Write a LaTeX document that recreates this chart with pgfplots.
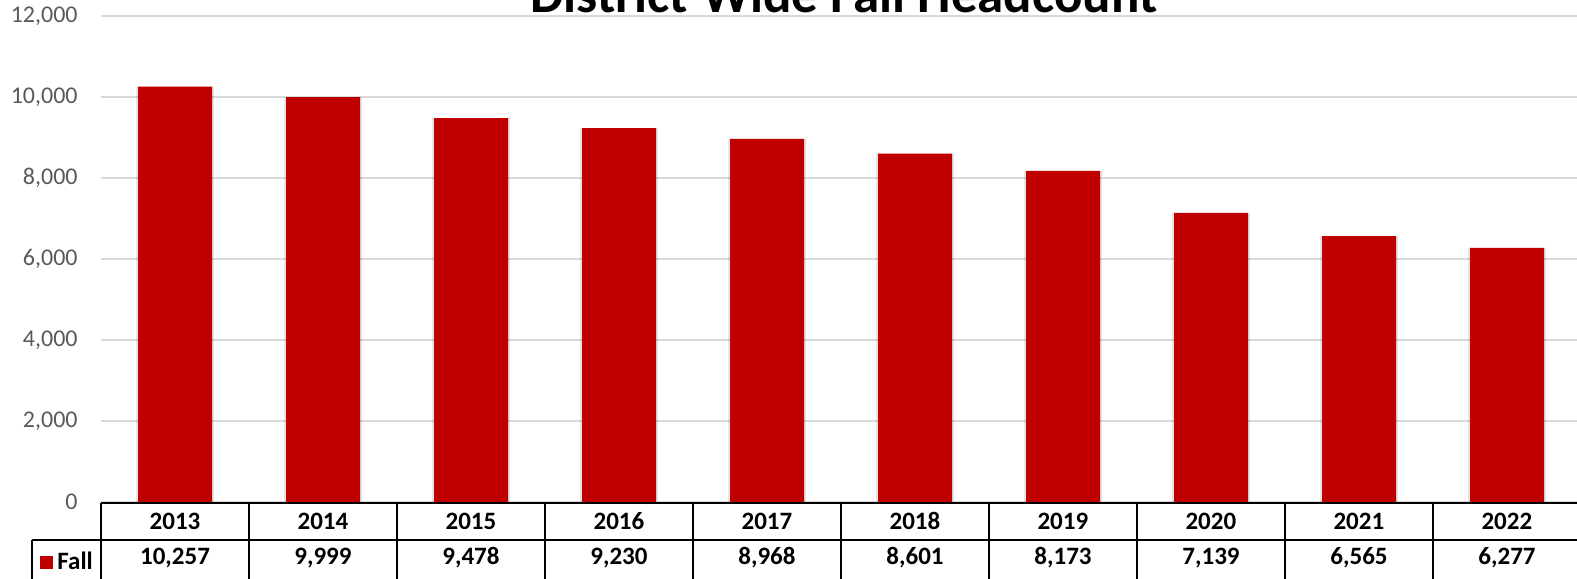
\documentclass[border=0pt]{standalone}
\usepackage{pgfplots}
\pgfplotsset{compat=1.18}
\usepackage{pgfplotstable}
\usepackage{fontspec}
\setmainfont{Carlito}
\definecolor{barred}{HTML}{C00000}
\definecolor{gridgray}{HTML}{D9D9D9}
\definecolor{ticktext}{HTML}{595959}
\pgfplotstableread{
year v
2013 10257
2014 9999
2015 9478
2016 9230
2017 8968
2018 8601
2019 8173
2020 7139
2021 6565
2022 6277
}\datatable
\begin{document}
\begin{tikzpicture}[x=0.5pt,y=0.5pt]
\path[use as bounding box] (0,0) rectangle (1577,578);
\clip (0,0) rectangle (1577,578);
\node[anchor=base, inner sep=0pt, font=\bfseries\fontsize{26.5}{30}\selectfont] at (844,565) {District-Wide Fall Headcount};
\begin{axis}[
  at={(50.5pt,38pt)}, anchor=south west,
  scale only axis, width=740pt, height=243pt,
  xmin=2012.5, xmax=2022.5, ymin=0, ymax=12000,
  axis line style={draw=none},
  ytick={0,2000,...,12000},
  scaled y ticks=false,
  ymajorgrids, grid style={gridgray, line width=0.75pt},
  major tick length=0pt,
  xtick={2013,...,2022},
  xticklabel={\pgfmathprintnumber[1000 sep={}]{\tick}},
  xticklabel style={font=\bfseries\fontsize{12.5}{14}\selectfont, anchor=base, yshift=-13.65pt, inner sep=0pt},
  yticklabel style={font=\fontsize{12}{14}\selectfont, text=ticktext, anchor=east, inner sep=0pt, xshift=-11.5pt},
  /pgf/number format/.cd, 1000 sep={,}, assume math mode=true, /pgfplots/.cd,
  clip=false,
  legend style={at={(axis description cs:-0.0412,-0.1235)}, anchor=west, draw=none, fill=none, inner sep=0pt,
    font=\bfseries\fontsize{12.5}{14}\selectfont},
]
\addplot[ybar, bar shift=0pt, bar width=39pt, fill=black, opacity=0.1, draw=none, forget plot] table[x=year, y=v] {\datatable};
\addplot[ybar, bar shift=0pt, bar width=37pt, fill=barred, draw=none,
  legend image code/.code={\fill[barred] (0pt,-3.5pt) rectangle (6.5pt,3pt);}] table[x=year, y=v] {\datatable};
\addlegendentry{Fall}
\addplot[draw=none, forget plot, nodes near coords, point meta=explicit,
  every node near coord/.style={anchor=base, inner sep=0pt, font=\bfseries\fontsize{12.5}{14}\selectfont}]
  table[x=year, y expr=-1543, meta=v] {\datatable};
\end{axis}
\begin{scope}[line width=1pt, black]
\draw (101,75) -- (1600,75);
\draw (32,38) -- (1600,38);
\draw (32,38) -- (32,-5);
\foreach \i in {0,...,10} { \draw ({101+148*\i},75) -- ({101+148*\i},-5); }
\end{scope}
\end{tikzpicture}
\end{document}
